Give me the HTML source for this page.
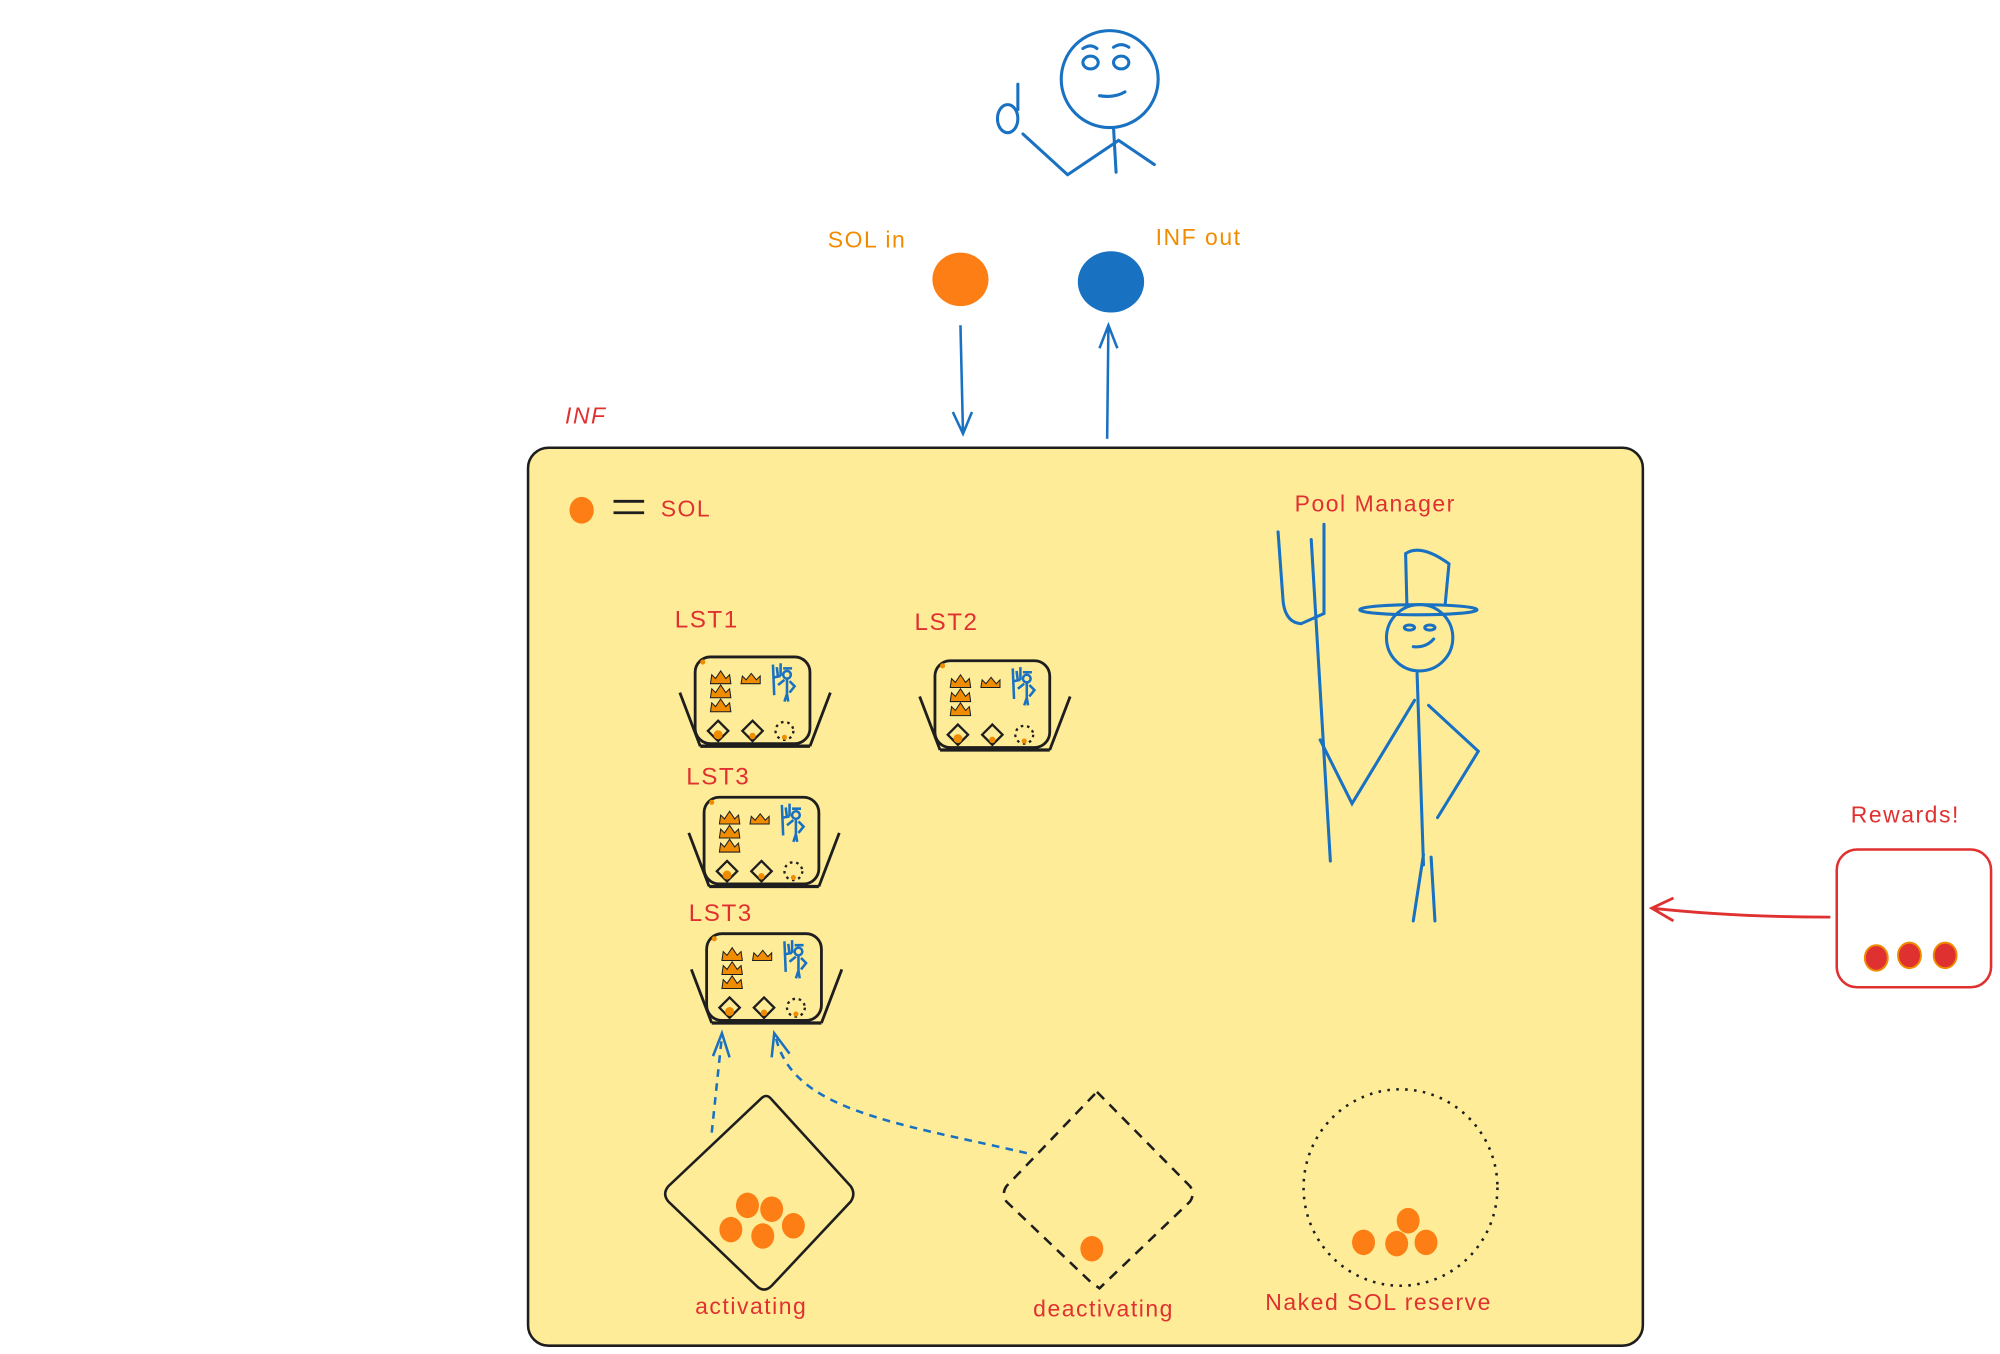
<!DOCTYPE html>
<html><head><meta charset="utf-8"><style>
html,body{margin:0;padding:0;background:#fff;width:2000px;height:1354px;overflow:hidden}
svg{display:block}
text{font-family:"Liberation Sans",sans-serif;letter-spacing:1.2px}
</style></head><body>
<svg width="2000" height="1354" viewBox="0 0 1568 1061.5" xmlns="http://www.w3.org/2000/svg">
<defs>
<g id="mini">
  <rect x="0" y="0" width="90" height="68" rx="12" fill="none" stroke="#1e1e1e" stroke-width="2.2"/>
  <line x1="-12" y1="28" x2="4" y2="70" stroke="#1e1e1e" stroke-width="2.2"/>
  <line x1="106" y1="28" x2="90" y2="70" stroke="#1e1e1e" stroke-width="2.2"/>
  <line x1="4" y1="70" x2="90" y2="70" stroke="#1e1e1e" stroke-width="2.6"/>
  <circle cx="6" cy="4" r="2" fill="#f08c00"/>
  <g fill="#f08c00" stroke="#1e1e1e" stroke-width="0.8">
    <path d="M12 21 l1 -7 l3 3 l4 -6 l4 6 l3 -3 l1 7 z"/>
    <path d="M36 21 l1 -6 l3 3 l4 -5 l4 5 l3 -3 l0 6 z"/>
    <path d="M12 32 l1 -7 l3 3 l4 -6 l4 6 l3 -3 l1 7 z"/>
    <path d="M12 43 l1 -7 l3 3 l4 -6 l4 6 l3 -3 l1 7 z"/>
  </g>
  <g stroke="#1971c2" stroke-width="2" fill="none">
    <path d="M61 6 l1 24 M64 8 l1 8 M67 5 l0 10 M62 16 l5 -1"/>
    <circle cx="72" cy="14" r="3"/>
    <path d="M69 9 h7 M72 17 v12 M65 22 l5 -4 M74 19 l4 4 l-4 5 M72 29 l-2 6 M72 29 l1 6"/>
  </g>
  <g stroke="#1e1e1e" stroke-width="1.8" fill="none">
    <path d="M18 50 l8 8 l-8 8 l-8 -8 z"/>
    <path d="M45 50 l8 8 l-8 8 l-8 -8 z"/>
    <circle cx="70" cy="58" r="7" stroke-dasharray="2 3"/>
  </g>
  <circle cx="18" cy="61" r="3.5" fill="#f08c00"/>
  <circle cx="45" cy="62" r="2.5" fill="#f08c00"/>
  <circle cx="70" cy="63" r="2" fill="#f08c00"/>
</g>
</defs>

<g stroke="#1971c2" stroke-width="2.4" fill="none" stroke-linecap="round">
  <circle cx="870" cy="62" r="38"/>
  <ellipse cx="855" cy="49" rx="6" ry="5"/>
  <ellipse cx="879" cy="49" rx="6" ry="5"/>
  <path d="M849 38 q6 -4 11 0 M873 37 q6 -4 12 0"/>
  <path d="M862 75 q12 2 20 -3"/>
  <path d="M873 100 l2 35 M837 137 l40 -27 l28 19 M837 137 l-35 -32"/>
  <ellipse cx="790" cy="93" rx="8" ry="11"/>
  <path d="M798 86 v-20"/>
</g>

<text x="649" y="194" font-size="18" fill="#f08c00">SOL in</text>
<text x="906" y="192" font-size="18" fill="#f08c00">INF out</text>
<ellipse cx="753" cy="219" rx="22" ry="21" fill="#fd7e14"/>
<ellipse cx="871" cy="221" rx="26" ry="24" fill="#1971c2"/>
<g stroke="#1971c2" stroke-width="2" fill="none">
  <path d="M753 255 L755 340 M747 323 L755 340 L762 323"/>
  <path d="M868 344 L869 255 M862 273 L869 255 L876 273"/>
</g>

<text x="443" y="332" font-size="18" fill="#e03131" font-style="italic">INF</text>

<rect x="414" y="351" width="874" height="704" rx="16" fill="#ffec99" stroke="#1e1e1e" stroke-width="2"/>

<ellipse cx="456" cy="400" rx="9.5" ry="10.5" fill="#fd7e14"/>
<path d="M481 393 h24 M481 402 h24" stroke="#1e1e1e" stroke-width="2.2"/>
<text x="518" y="405" font-size="18" fill="#e03131">SOL</text>

<text x="529" y="492" font-size="19" fill="#e03131">LST1</text>
<text x="717" y="494" font-size="19" fill="#e03131">LST2</text>
<text x="538" y="615" font-size="19" fill="#e03131">LST3</text>
<text x="540" y="722" font-size="19" fill="#e03131">LST3</text>

<use href="#mini" x="545" y="515"/>
<use href="#mini" x="733" y="518"/>
<use href="#mini" x="552" y="625"/>
<use href="#mini" x="554" y="732"/>

<text x="1015" y="401" font-size="18" fill="#e03131" letter-spacing="2.4">Pool Manager</text>
<g stroke="#1971c2" stroke-width="2.4" fill="none" stroke-linecap="round">
  <path d="M1002 417 l4 55 q2 16 14 17 l18 -8 l0 -70"/>
  <path d="M1028 423 l15 252"/>
  <ellipse cx="1112" cy="478" rx="46" ry="4"/>
  <path d="M1103 474 l-1 -40 q12 -8 34 8 l-3 32"/>
  <circle cx="1113" cy="500" r="26"/>
  <ellipse cx="1105" cy="492" rx="4" ry="2"/>
  <ellipse cx="1121" cy="492" rx="4" ry="2"/>
  <path d="M1108 507 q10 1 16 -6"/>
  <path d="M1111 528 l5 150 M1035 580 l25 50 l49 -81 M1120 553 l39 36 l-32 52 M1116 670 l-8 52 M1122 672 l3 50"/>
</g>

<g stroke="#1971c2" stroke-width="2" fill="none" stroke-dasharray="6 5">
  <path d="M558 888 L566 812"/>
  <path d="M805 904 C700 880 620 870 608 812"/>
</g>
<g stroke="#1971c2" stroke-width="2" fill="none">
  <path d="M559 828 L566 810 L572 829"/>
  <path d="M605 829 L607 810 L619 826"/>
</g>

<path d="M597 861 Q601 857 605 862 L667 930 Q671 936 667 942 L605 1008 Q599 1014 593 1008 L524 942 Q519 936 524 930 Z" fill="none" stroke="#1e1e1e" stroke-width="2"/>
<g fill="#fd7e14">
  <ellipse cx="586" cy="945" rx="9" ry="10"/>
  <ellipse cx="605" cy="948" rx="9" ry="10"/>
  <ellipse cx="573" cy="964" rx="9" ry="10"/>
  <ellipse cx="598" cy="969" rx="9" ry="10"/>
  <ellipse cx="622" cy="961" rx="9" ry="10"/>
</g>
<text x="545" y="1030" font-size="18" fill="#e03131" letter-spacing="1.8">activating</text>

<path d="M860 856 L933 930 Q937 936 933 942 L862 1010 L855 1005 L789 942 Q785 936 789 930 Z" fill="none" stroke="#1e1e1e" stroke-width="2" stroke-dasharray="8 6"/>
<ellipse cx="856" cy="979" rx="9" ry="10" fill="#fd7e14"/>
<text x="810" y="1032" font-size="18" fill="#e03131" letter-spacing="1.8">deactivating</text>

<ellipse cx="1098" cy="931" rx="76" ry="77" fill="none" stroke="#1e1e1e" stroke-width="2" stroke-dasharray="2 5"/>
<g fill="#fd7e14">
  <ellipse cx="1104" cy="957" rx="9" ry="10"/>
  <ellipse cx="1069" cy="974" rx="9" ry="10"/>
  <ellipse cx="1095" cy="975" rx="9" ry="10"/>
  <ellipse cx="1118" cy="974" rx="9" ry="10"/>
</g>
<text x="992" y="1027" font-size="18" fill="#e03131" letter-spacing="2.4">Naked SOL reserve</text>

<text x="1451" y="645" font-size="18" fill="#e03131">Rewards!</text>
<rect x="1440" y="666" width="121" height="108" rx="16" fill="#fff" stroke="#e03131" stroke-width="2"/>
<g fill="#e03131" stroke="#f08c00" stroke-width="1.5">
  <ellipse cx="1471" cy="751" rx="9" ry="10"/>
  <ellipse cx="1497" cy="749" rx="9" ry="10"/>
  <ellipse cx="1525" cy="749" rx="9" ry="10"/>
</g>
<g stroke="#e03131" stroke-width="2.2" fill="none">
  <path d="M1435 719 Q1360 719 1295 712 M1312 704 L1295 712 L1312 722"/>
</g>
</svg>
</body></html>
